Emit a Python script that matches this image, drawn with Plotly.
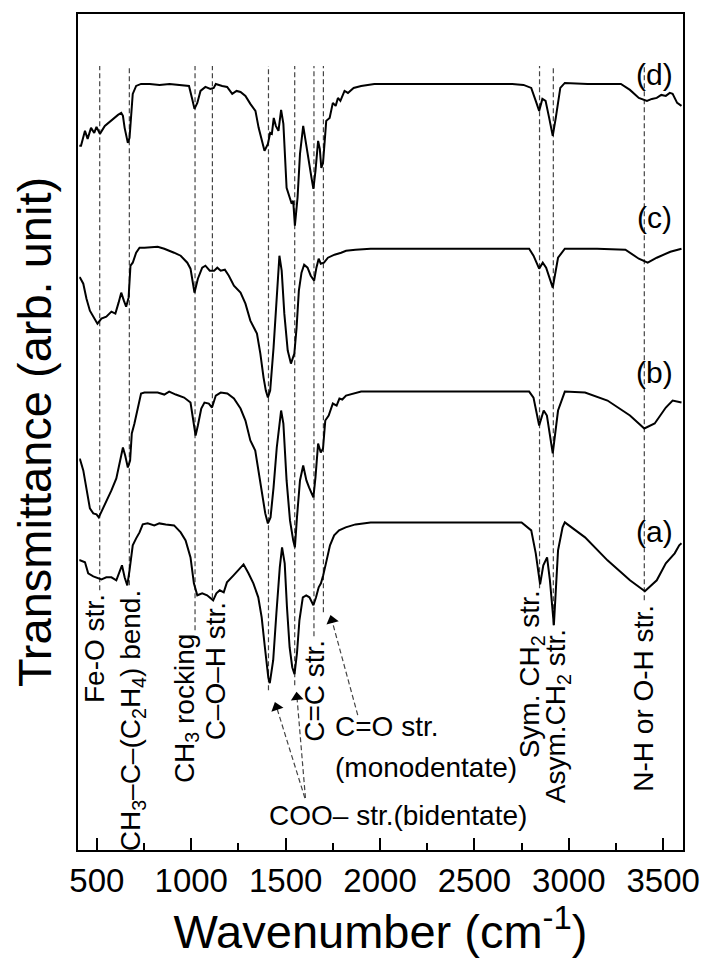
import plotly.graph_objects as go

# ---- data: wavenumber (cm-1) and transmittance (arb. unit, stacked) ----
d_wn = [407, 416, 437, 451, 469, 486, 498, 516, 542, 577, 612, 629, 638, 647, 664, 673, 682, 690, 708, 734,
        780, 832, 885, 937, 979, 988, 1005, 1017, 1032, 1049, 1075, 1101, 1119, 1130, 1164, 1190, 1217, 1240,
        1261, 1287, 1313, 1340, 1357, 1374, 1388, 1406, 1418, 1427, 1437, 1448, 1462, 1476, 1488, 1505, 1518,
        1532, 1540, 1549, 1563, 1576, 1593, 1610, 1624, 1637, 1647, 1658, 1672, 1681, 1689, 1698, 1707, 1715,
        1733, 1750, 1765, 1777, 1790, 1812, 1830, 1860, 1900, 1970, 2100, 2300, 2500, 2700, 2760, 2801, 2825,
        2843, 2860, 2877, 2896, 2915, 2931, 2955, 2979, 3100, 3200, 3276, 3324, 3371, 3414, 3440, 3466, 3490,
        3514, 3535, 3550, 3574, 3597]
d_val = [705, 705, 720, 712, 723, 718, 724, 717, 725, 731, 736, 738, 735, 723, 708, 713, 738, 757, 765, 767,
         767, 766, 767, 766, 765, 765, 752, 742, 748, 760, 764, 762, 763, 767, 765, 764, 757, 760,
         759, 755, 747, 740, 723, 710, 700, 707, 718, 717, 733, 725, 720, 741, 727, 663, 655,
         647, 650, 625, 653, 697, 725, 703, 690, 673, 662, 680, 710, 702, 683, 688, 710, 730,
         733, 748, 745, 753, 750, 760, 758, 763, 765, 767, 767, 767, 767, 767, 766, 763, 750,
         740, 752, 750, 733, 715, 733, 763, 768, 767, 767, 767, 761, 753, 750, 752, 753, 756,
         755, 758, 757, 748, 745]

c_wn = [407, 411, 428, 445, 463, 490, 503, 524, 550, 577, 598, 615, 629, 643, 655, 668, 678, 690, 708, 726,
        752, 822, 857, 909, 944, 979, 996, 1017, 1035, 1058, 1075, 1098, 1121, 1138, 1156, 1178, 1199, 1226,
        1261, 1287, 1313, 1348, 1366, 1383, 1395, 1406, 1418, 1436, 1453, 1467, 1479, 1493, 1511, 1528, 1546,
        1558, 1570, 1584, 1598, 1616, 1633, 1651, 1663, 1675, 1686, 1703, 1724, 1759, 1794, 1820, 1870, 1950,
        2200, 2500, 2790, 2813, 2843, 2862, 2880, 2915, 2943, 2979, 3150, 3300, 3371, 3418, 3466, 3538, 3597]
c_val = [573, 573, 567, 552, 540, 532, 527, 532, 534, 539, 537, 548, 558, 550, 544, 553, 585, 588, 598, 603,
         603, 604, 602, 598, 595, 588, 582, 558, 572, 583, 585, 580, 580, 583, 580, 581, 575, 565,
         558, 547, 530, 517, 497, 473, 460, 453, 460, 503, 560, 595, 580, 537, 500, 487, 497,
         523, 560, 578, 586, 583, 575, 570, 583, 592, 587, 588, 593, 596, 598, 600, 601, 602,
         602, 602, 602, 595, 582, 588, 583, 563, 593, 602, 602, 601, 592, 588, 593, 599, 602]

b_wn = [407, 411, 428, 445, 463, 481, 498, 510, 528, 550, 577, 603, 621, 638, 650, 664, 676, 685, 699, 717,
        734, 752, 822, 857, 883, 918, 962, 996, 1014, 1023, 1035, 1053, 1070, 1093, 1110, 1130, 1156, 1191,
        1226, 1261, 1287, 1313, 1339, 1357, 1374, 1392, 1406, 1420, 1436, 1453, 1476, 1488, 1505, 1523, 1540,
        1549, 1560, 1576, 1593, 1610, 1624, 1637, 1647, 1658, 1672, 1686, 1698, 1710, 1728, 1750, 1770, 1785,
        1800, 1820, 1860, 1900, 2200, 2500, 2790, 2813, 2843, 2867, 2884, 2915, 2943, 2979, 3086, 3205, 3324,
        3400, 3455, 3514, 3550, 3597]
b_val = [391, 391, 380, 360, 342, 337, 336, 333, 340, 350, 360, 372, 390, 403, 395, 383, 390, 417, 427, 443,
         457, 458, 458, 456, 459, 456, 453, 448, 427, 415, 425, 442, 448, 447, 443, 455, 458, 457,
         452, 442, 430, 410, 400, 380, 357, 337, 327, 333, 363, 403, 440, 427, 370, 330, 310,
         303, 333, 370, 385, 370, 363, 358, 353, 373, 407, 398, 402, 430, 435, 447, 445, 452,
         451, 455, 457, 459, 459, 459, 459, 453, 425, 440, 435, 397, 440, 459, 458, 450, 435,
         422, 427, 443, 450, 448]

a_wn = [407, 411, 437, 454, 481, 507, 524, 550, 577, 603, 621, 633, 647, 661, 673, 690, 708, 726, 743, 769,
        804, 831, 865, 909, 944, 970, 996, 1014, 1032, 1058, 1084, 1101, 1116, 1133, 1151, 1172, 1189, 1224,
        1259, 1277, 1303, 1329, 1355, 1373, 1390, 1408, 1416, 1434, 1451, 1469, 1481, 1495, 1507, 1521, 1535,
        1547, 1560, 1573, 1591, 1609, 1626, 1647, 1661, 1675, 1687, 1699, 1717, 1735, 1757, 1783, 1818, 1870,
        1950, 2200, 2500, 2750, 2801, 2825, 2848, 2865, 2885, 2900, 2921, 2943, 2967, 2979, 3086, 3205, 3324,
        3403, 3466, 3514, 3561, 3585, 3597]
a_val = [290, 290, 288, 277, 274, 272, 271, 273, 273, 270, 280, 285, 273, 265, 280, 305, 312, 318, 326, 327,
         325, 327, 326, 325, 318, 310, 293, 267, 255, 257, 255, 252, 250, 257, 260, 258, 268, 275,
         283, 286, 277, 267, 253, 233, 203, 173, 167, 190, 237, 283, 303, 287, 243, 203, 183,
         176, 197, 230, 253, 255, 253, 245, 253, 263, 267, 275, 290, 305, 315, 320, 323, 326,
         328, 328, 328, 328, 320, 297, 266, 285, 293, 270, 225, 300, 323, 328, 313, 290, 270,
         259, 270, 287, 297, 305, 307]

# band positions (cm-1) and where each dashed guide line ends (arb. unit)
band_wn = [515, 672, 1020, 1112, 1409, 1548, 1650, 1700, 2845, 2918, 3400]
band_low = [260, 265, 220, 252, 160, 165, 214, 238, 262, 225, 250]
band_top = 785

# pointer arrows: tail (x, y) -> head centre (x, y), head rotation (deg)
arrow_tail_x = [1602, 1605, 1882]
arrow_tail_y = [52, 52, 135]
arrow_head_x = [1452, 1560, 1745]
arrow_head_y = [143, 153, 230]
arrow_angle = [-18, -5, -15]

x_ticks = [500, 1000, 1500, 2000, 2500, 3000, 3500]
x_minor = [750, 1250, 1750, 2250, 2750, 3250]
FONT = "Liberation Sans, Arial, sans-serif"
DASH = dict(color="#444", width=1.2, dash="5px,3px")

fig = go.Figure()

# dashed guide lines
for w, lo in zip(band_wn, band_low):
    fig.add_trace(go.Scatter(x=[w, w], y=[lo, band_top], mode="lines", line=DASH,
                             hoverinfo="skip", showlegend=False))

# dashed arrow shafts
for tx, ty, hx, hy in zip(arrow_tail_x, arrow_tail_y, arrow_head_x, arrow_head_y):
    fig.add_trace(go.Scatter(x=[tx, hx], y=[ty, hy], mode="lines", line=DASH,
                             hoverinfo="skip", showlegend=False))
# arrow heads
fig.add_trace(go.Scatter(x=arrow_head_x, y=arrow_head_y, mode="markers",
                         marker=dict(symbol="triangle-up", size=11, color="black",
                                     angle=arrow_angle, line=dict(width=0)),
                         hoverinfo="skip", showlegend=False))

for wn, val in [(a_wn, a_val), (b_wn, b_val), (c_wn, c_val), (d_wn, d_val)]:
    fig.add_trace(go.Scatter(x=wn, y=val, mode="lines",
                             line=dict(color="black", width=2), showlegend=False))

ann = []
rot_labels = [
    ("Fe-O str.", 491, 258),
    ("CH<sub>3</sub>–C–(C<sub>2</sub>H<sub>4</sub>) bend.", 686, 263),
    ("CH<sub>3</sub> rocking", 974, 218),
    ("C–O–H str.", 1126, 250),
    ("C=C str.", 1653, 212),
    ("Sym. CH<sub>2</sub> str.", 2800, 262),
    ("Asym.CH<sub>2</sub> str.", 2937, 223),
    ("N-H or O-H str.", 3398, 248),
]
for t, x, y in rot_labels:
    ann.append(dict(x=x, y=y, xref="x", yref="y", text=t, showarrow=False, textangle=-90,
                    xanchor="center", yanchor="top", font=dict(family=FONT, size=28, color="black")))

hor_labels = [
    ("C=O str.", 1751, 124),
    ("(monodentate)", 1751, 83),
    ("COO– str.(bidentate)", 1399, 35),
]
for t, x, y in hor_labels:
    ann.append(dict(x=x, y=y, xref="x", yref="y", text=t, showarrow=False,
                    xanchor="left", yanchor="middle", font=dict(family=FONT, size=28, color="black")))

for t, y in [("(d)", 776), ("(c)", 633), ("(b)", 478), ("(a)", 319)]:
    ann.append(dict(x=3456, y=y, xref="x", yref="y", text=t, showarrow=False,
                    xanchor="center", yanchor="middle", font=dict(family=FONT, size=30, color="black")))

fig.update_layout(
    width=712, height=960,
    margin=dict(l=78, r=24, t=13, b=110),
    paper_bgcolor="white", plot_bgcolor="white",
    annotations=ann,
    showlegend=False,
)
fig.update_xaxes(range=[400, 3605], tickvals=x_ticks, ticks="inside", ticklen=12, tickwidth=2,
                 tickcolor="black",
                 minor=dict(tickvals=x_minor, ticks="inside", ticklen=7, tickwidth=2, tickcolor="black"),
                 showline=True, linewidth=2, linecolor="black", mirror=True, showgrid=False,
                 zeroline=False, tickfont=dict(family=FONT, size=33, color="black"),
                 title=dict(text="Wavenumber (cm<sup>-1</sup>)", standoff=4,
                            font=dict(family=FONT, size=47, color="black")))
fig.update_yaxes(range=[0, 837], showticklabels=False, ticks="", showline=True, linewidth=2,
                 linecolor="black", mirror=True, showgrid=False, zeroline=False,
                 title=dict(text="Transmittance (arb. unit)", standoff=10,
                            font=dict(family=FONT, size=47, color="black")))

fig.write_html("out.html")
